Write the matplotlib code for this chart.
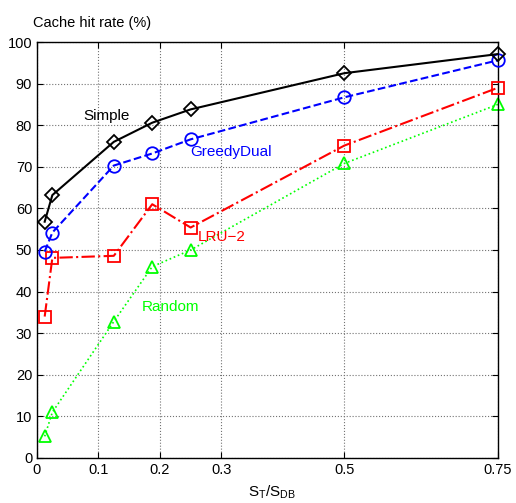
import numpy as np
import matplotlib.pyplot as plt

plt.rcParams['font.family'] = ['Liberation Sans', 'DejaVu Sans']
plt.rcParams['mathtext.fontset'] = 'custom'
plt.rcParams['mathtext.rm'] = 'Liberation Sans'

# data
ratio = [0.0125, 0.025, 0.125, 0.1875, 0.25, 0.5, 0.75]
simple = [56.8, 63.2, 76.0, 80.6, 83.8, 92.5, 97.1]
greedy = [49.6, 54.2, 70.3, 73.2, 76.6, 86.7, 95.6]
lru2 = [34.0, 48.1, 48.6, 61.0, 55.4, 75.1, 89.0]
rand = [5.2, 11.0, 32.8, 46.0, 50.0, 70.8, 85.0]

xticks = [0, 0.1, 0.2, 0.3, 0.5, 0.75]
xticklabels = ['0', '0.1', '0.2', '0.3', '0.5', '0.75']
yticks = list(range(0, 101, 10))

fig = plt.figure(figsize=(5.16, 5.03), dpi=100)
ax = fig.add_axes([0.0717, 0.0895, 0.8933, 0.827])

ms = 9
ax.plot(ratio, simple, color='k', ls='-', lw=1.5, marker='D', ms=7.5,
        mfc='none', mew=1.3, zorder=5, clip_on=False)
ax.plot(ratio, greedy, color='b', ls='--', lw=1.5, marker='o', ms=ms,
        mfc='none', mew=1.3, zorder=4, clip_on=False)
ax.plot(ratio, lru2, color='r', ls='-.', lw=1.5, marker='s', ms=8,
        mfc='none', mew=1.3, zorder=3, clip_on=False)
ax.plot(ratio, rand, color=(0, 1, 0), ls=':', lw=1.2, marker='^', ms=ms,
        mfc='none', mew=1.3, zorder=2, clip_on=False)

ax.text(0.075, 82.2, 'Simple', color='k', fontsize=11, va='center')
ax.text(0.249, 73.6, 'GreedyDual', color='b', fontsize=11, va='center')
ax.text(0.262, 53.1, 'LRU\u22122', color='r', fontsize=11, va='center')
ax.text(0.171, 36.3, 'Random', color=(0, 1, 0), fontsize=11, va='center')

ax.set_xlim(0, 0.75)
ax.set_ylim(0, 100)
ax.set_xticks(xticks)
ax.set_xticklabels(xticklabels)
ax.set_yticks(yticks)
ax.tick_params(direction='in', length=4, labelsize=10.5, top=True, right=True)
ax.grid(True, ls=':', color='0.45', lw=0.8)
for s in ax.spines.values():
    s.set_linewidth(1.0)

fig.text(0.064, 0.955, 'Cache hit rate (%)', fontsize=10.5, ha='left', va='center')
fig.text(0.527, 0.022, r'$\mathregular{S_T/S_{DB}}$', fontsize=11, ha='center', va='center')

fig.savefig('out.png', dpi=100)
